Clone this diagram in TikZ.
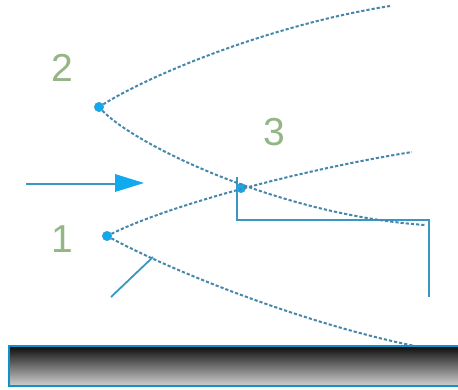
\documentclass[tikz,border=0pt]{standalone}
\usepackage{fontspec}
\setmainfont{Liberation Sans}
\usetikzlibrary{calc}
\definecolor{lbl}{RGB}{146,182,132}
\definecolor{dotc}{RGB}{18,170,238}
\definecolor{wire}{RGB}{58,150,195}
\definecolor{dashc}{RGB}{70,135,170}
\tikzset{
  digit/.style={text=lbl,font=\fontsize{39}{39}\selectfont,inner sep=0pt},
  pt/.style={circle,fill=dotc,draw=wire,line width=0.4pt,minimum size=9.5pt,inner sep=0pt},
  ray/.style={dashc,line width=2pt,dash pattern=on 3.2pt off 2pt},
  wireline/.style={wire,line width=1.8pt},
  flowhead/.style={fill=dotc,draw=none},
}
\begin{document}
\begin{tikzpicture}[x=1pt,y=-1pt]
\useasboundingbox (0,0) rectangle (458,389);
\fill[white] (0,0) rectangle (458,389);
% bar
\shade[top color=black!95,bottom color=black!18] (9,346) rectangle (458,386);
\draw[dotc!85!black,line width=1.5pt] (458,346) -- (9,346) -- (9,386) -- (458,386);
% named points
\node[digit] (n2) at (62,68) {2};
\node[digit] (n3) at (274,132) {3};
\node[digit] (n1) at (62,239) {1};
\coordinate (e2u) at (390,6);
\coordinate (e2l) at (425,225);
\coordinate (e1u) at (412,152);
\coordinate (e1l) at (415,346);
\coordinate (fa) at (26,184);
\coordinate (fb) at (115,184);
\coordinate (w1) at (237,177);
\coordinate (w2) at (237,220);
\coordinate (w3) at (429,220);
\coordinate (w4) at (429,297);
\coordinate (t1) at (111,297);
\coordinate (t2) at (153,257);
% wires
\draw[wireline] (w1) -- (w2) -- (w3) -- (w4);
\draw[wireline] (t1) -- (t2);
\draw[wireline] (fa) -- (fb);
\fill[flowhead] (115,174) -- (144,183) -- (115,192) -- cycle;
% dots as nodes
\node[pt] (p2) at (99,107) {};
\node[pt] (p1) at (107,236) {};
\node[pt] (p3) at (241,188) {};
% rays
\draw[ray] (p2) .. controls (150,75) and (270,25) .. (e2u);
\draw[ray] (p2) .. controls (135,145) and (280,215) .. (e2l);
\draw[ray] (p1) .. controls (170,205) and (300,170) .. (e1u);
\draw[ray] (p1) .. controls (180,275) and (310,325) .. (e1l);
\end{tikzpicture}
\end{document}
